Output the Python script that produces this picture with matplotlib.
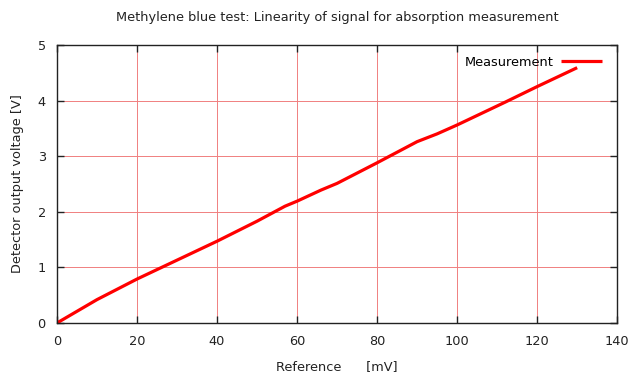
import matplotlib
matplotlib.use("Agg")
import matplotlib.pyplot as plt

ref_mv = [0, 10, 20, 30, 40, 50, 57, 60, 66, 70, 80, 90, 95, 100, 112, 120, 130]
voltage = [0, 0.42, 0.79, 1.13, 1.47, 1.83, 2.10, 2.19, 2.39, 2.51, 2.88, 3.26, 3.40, 3.56, 3.97, 4.25, 4.59]
xticks = [0, 20, 40, 60, 80, 100, 120, 140]
yticks = [0, 1, 2, 3, 4, 5]

plt.rcParams['font.family'] = ['DejaVu Sans']
fig = plt.figure(figsize=(6.33, 3.74), dpi=100)
ax = fig.add_axes([0.090, 0.1364, 0.885, 0.7436])

ax.plot(ref_mv, voltage, color='#ff0000', lw=2.3, label='Measurement', solid_capstyle='butt')
ax.set_xlim(0, 140)
ax.set_ylim(0, 5)
ax.set_xticks(xticks)
ax.set_yticks(yticks)
ax.grid(True, color='#f08080', lw=0.7)
ax.tick_params(direction='in', length=5, width=1, top=True, right=True,
               labelsize=9.3, colors='#222222', pad=8)
ax.tick_params(axis='x', pad=9)
for s in ax.spines.values():
    s.set_color('#222222')
    s.set_linewidth(1.0)

ax.set_title('Methylene blue test: Linearity of signal for absorption measurement',
             fontsize=9.3, pad=17, color='#222222')
ax.set_xlabel('Reference      [mV]', fontsize=9.3, color='#222222', labelpad=8)
ax.set_ylabel('Detector output voltage [V]', fontsize=9.3, color='#222222', labelpad=10)

leg = ax.legend(loc='upper right', bbox_to_anchor=(0.983, 0.980), frameon=False,
                markerfirst=False, fontsize=9.3,
                handlelength=3.2, borderaxespad=0.0, handletextpad=0.6)

fig.savefig('out.png', dpi=100, facecolor='white')
